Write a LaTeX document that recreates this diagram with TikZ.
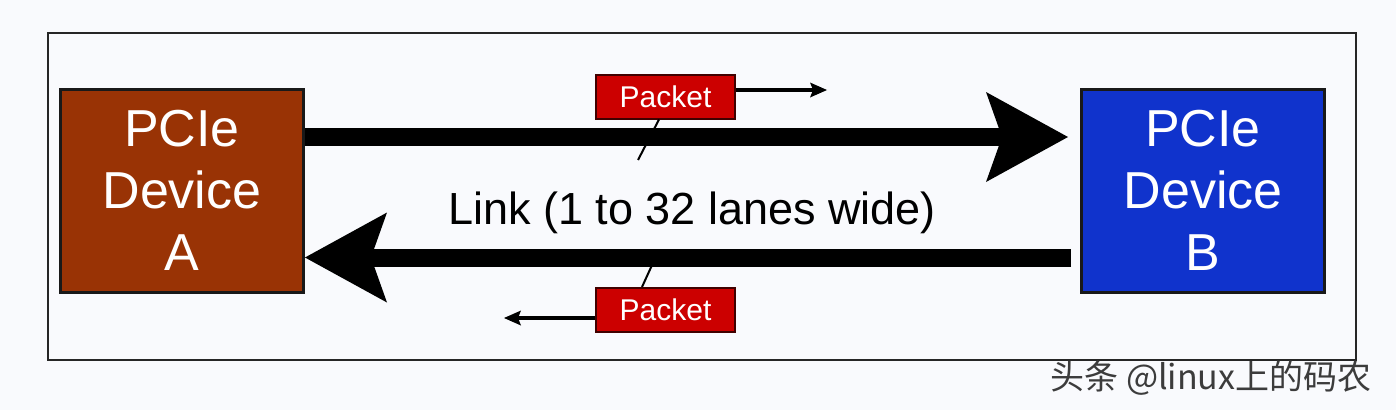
\documentclass[tikz,border=0pt]{standalone}
\usepackage{fontspec}
\setmainfont{Liberation Sans}
\newfontfamily\cjkfont{Noto Sans CJK SC}
\usetikzlibrary{arrows.meta}
\definecolor{bg}{RGB}{249,250,253}
\definecolor{brownA}{RGB}{153,51,5}
\definecolor{blueB}{RGB}{16,51,204}
\definecolor{pktred}{RGB}{204,0,0}
\definecolor{wm}{RGB}{60,60,60}
\tikzset{
 devbox/.style={draw=black!90, line width=3pt, minimum width=243pt, minimum height=203pt,
   inner sep=0pt, align=center, text=white, font=\fontsize{52}{62}\selectfont},
 pktbox/.style={draw=black!75!red, line width=2pt, fill=pktred, minimum width=139pt,
   minimum height=44pt, inner sep=0pt, text=white, font=\fontsize{30}{36}\selectfont},
 bigarrow/.style={line width=18pt, -{Stealth[length=82pt,width=90pt,inset=16pt,line width=0pt]}},
 smallarrow/.style={line width=4pt, -{Stealth[length=17pt,width=15pt,inset=3pt,line width=0pt]}},
 pointer/.style={line width=2pt},
 framebox/.style={line width=1.5pt, draw=black!85},
}
\begin{document}
\begin{tikzpicture}[x=1pt,y=-1pt]
\fill[bg] (0,0) rectangle (1396,410);
\useasboundingbox (0,0) rectangle (1396,410);
\draw[framebox] (48,33) rectangle (1356,360);

\node[devbox, fill=brownA] (A) at (182,190.5) {PCIe\\Device\\A};
\node[devbox, fill=blueB] (B) at (1203,190.5) {PCIe\\Device\\B};

\draw[bigarrow, shorten >=12pt] ([yshift=53.5pt]A.east) -- ([yshift=53.5pt]B.west);
\draw[bigarrow, shorten <=9pt] ([yshift=-67pt]B.west) -- ([yshift=-67pt]A.east);

\node[font=\fontsize{45}{54}\selectfont, anchor=base] (link) at (692,224) {Link (1 to 32 lanes wide)};

\node[pktbox] (P1) at (665.5,96.5) {Packet};
\node[pktbox] (P2) at (665.5,310) {Packet};

\coordinate (t1) at (827,90);
\coordinate (t2) at (504,318);
\draw[smallarrow] ([yshift=6.5pt]P1.east) -- (t1);
\draw[smallarrow] ([yshift=-8pt]P2.west) -- (t2);

\coordinate (c1) at (638,160);
\coordinate (c2) at (658,252);
\draw[pointer] ([xshift=-6.5pt]P1.south) -- (c1);
\draw[pointer] ([xshift=-23.5pt]P2.north) -- (c2);

\node[font=\cjkfont\fontsize{34}{40}\selectfont, text=wm] (wm) at (1211,378) {头条 @linux上的码农};
\end{tikzpicture}
\end{document}
